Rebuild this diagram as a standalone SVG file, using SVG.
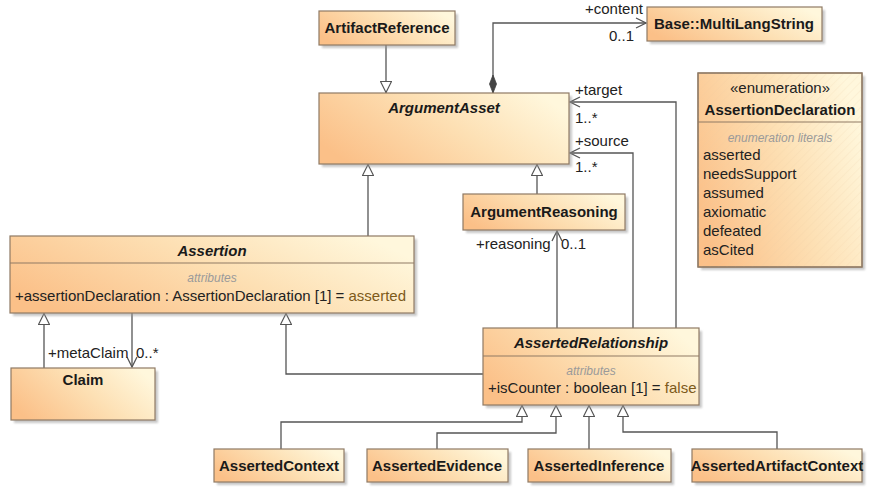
<svg xmlns="http://www.w3.org/2000/svg" width="880" height="490" viewBox="0 0 880 490">
<defs>
<linearGradient id="g" x1="0" y1="0.7" x2="1" y2="0.3">
<stop offset="0" stop-color="#fbc088"/>
<stop offset="0.55" stop-color="#fde0b4"/>
<stop offset="1" stop-color="#fff7dc"/>
</linearGradient>
<pattern id="hatch" width="6" height="6" patternUnits="userSpaceOnUse" patternTransform="rotate(45)">
<line x1="0" y1="0" x2="0" y2="6" stroke="#e6c9a2" stroke-width="0.6" stroke-opacity="0.5"/>
</pattern>
<filter id="sh" x="-10%" y="-10%" width="130%" height="140%">
<feGaussianBlur stdDeviation="1.2"/>
</filter>
<marker id="tri" viewBox="0 0 12 12" refX="12" refY="6" markerWidth="12" markerHeight="12" markerUnits="userSpaceOnUse" orient="auto">
<path d="M0.5,0.5 L11.5,6 L0.5,11.5 Z" fill="#fff" stroke="#555" stroke-width="1.2"/>
</marker>
<marker id="arr" viewBox="0 0 12 12" refX="11" refY="6" markerWidth="12" markerHeight="12" markerUnits="userSpaceOnUse" orient="auto">
<path d="M1,1 L11,6 L1,11" fill="none" stroke="#555" stroke-width="1.3"/>
</marker>
<marker id="dia" viewBox="0 0 18 8" refX="0" refY="4" markerWidth="18" markerHeight="8" markerUnits="userSpaceOnUse" orient="auto">
<path d="M0,4 L9,0.5 L18,4 L9,7.5 Z" fill="#444" stroke="#444" stroke-width="0.8"/>
</marker>
</defs>
<style>
.box{fill:url(#g);stroke:#8f7a64;stroke-width:1.2}
.shd{fill:#9a9a9a;opacity:0.55;filter:url(#sh)}
.div{stroke:#8f7a64;stroke-width:1.1}
.t{font-family:"Liberation Sans",Arial,sans-serif;font-size:15px;font-weight:bold;fill:#1a1a1a;text-anchor:middle}
.ti{font-style:italic}
.r{font-family:"Liberation Sans",Arial,sans-serif;font-size:15px;fill:#222}
.sm{font-family:"Liberation Sans",Arial,sans-serif;font-size:12px;font-style:italic;fill:#9a9a9a;text-anchor:middle}
.val{fill:#7d5a1a}
.c{fill:none;stroke:#555;stroke-width:1.3}
.gen{marker-end:url(#tri)}
.nav{marker-end:url(#arr)}
</style>
<rect width="880" height="490" fill="#fff"/>

<g id="connectors">
<path class="c gen" d="M386,45 L386,93"/>
<path class="c nav" d="M493,93 L493,23 L646,23" marker-start="url(#dia)"/>
<path class="c gen" d="M368,236 L368,164"/>
<path class="c gen" d="M537,194 L537,164"/>
<path class="c nav" d="M676,328 L676,102 L570,102"/>
<path class="c nav" d="M633,328 L633,153 L570,153"/>
<path class="c nav" d="M557,328 L557,231"/>
<path class="c gen" d="M44,368 L44,313"/>
<path class="c nav" d="M132,313 L132,367"/>
<path class="c gen" d="M483,374 L286,374 L286,313"/>
<path class="c gen" d="M281,449 L281,422 L522,422 L522,405"/>
<path class="c gen" d="M437,449 L437,433 L556,433 L556,405"/>
<path class="c gen" d="M589,449 L589,405"/>
<path class="c gen" d="M777,449 L777,432 L623,432 L623,405"/>
<g class="r">
<text x="585" y="14">+content</text>
<text x="609" y="41">0..1</text>
<text x="575" y="95">+target</text>
<text x="575" y="123">1..*</text>
<text x="575" y="146">+source</text>
<text x="575" y="172">1..*</text>
<text x="476" y="249">+reasoning</text>
<text x="561" y="249">0..1</text>
<text x="48" y="358">+metaClaim</text>
<text x="136" y="358">0..*</text>
</g>
</g>

<g id="ArtifactReference">
<rect class="shd" x="322" y="14" width="136" height="34"/>
<rect class="box" x="319" y="11" width="136" height="34"/>
<text class="t" x="387" y="33">ArtifactReference</text>
</g>

<g id="MultiLangString">
<rect class="shd" x="650" y="10" width="175" height="34"/>
<rect class="box" x="647" y="7" width="175" height="34"/>
<text class="t" x="734" y="29">Base::MultiLangString</text>
</g>

<g id="ArgumentAsset">
<rect class="shd" x="322" y="96" width="250" height="71"/>
<rect class="box" x="319" y="93" width="250" height="71"/>
<text class="t ti" x="444" y="113">ArgumentAsset</text>
</g>

<g id="ArgumentReasoning">
<rect class="shd" x="466" y="197" width="162" height="36"/>
<rect class="box" x="463" y="194" width="162" height="36"/>
<text class="t" x="544" y="217">ArgumentReasoning</text>
</g>

<g id="AssertionDeclaration">
<rect class="shd" x="701" y="76" width="164" height="194"/>
<rect class="box" x="698" y="73" width="164" height="194"/>
<rect x="698" y="73" width="164" height="194" fill="url(#hatch)"/>
<rect x="698" y="73" width="164" height="194" fill="none" stroke="#8f7a64" stroke-width="1.2"/>
<line class="div" x1="698" y1="122" x2="862" y2="122"/>
<text class="r" x="780" y="93" text-anchor="middle">«enumeration»</text>
<text class="t" x="780" y="115">AssertionDeclaration</text>
<text class="sm" x="780" y="142">enumeration literals</text>
<g class="r">
<text x="703" y="160">asserted</text>
<text x="703" y="179">needsSupport</text>
<text x="703" y="198">assumed</text>
<text x="703" y="217">axiomatic</text>
<text x="703" y="236">defeated</text>
<text x="703" y="255">asCited</text>
</g>
</g>

<g id="Assertion">
<rect class="shd" x="13" y="239" width="404" height="77"/>
<rect class="box" x="10" y="236" width="404" height="77"/>
<line class="div" x1="10" y1="263" x2="414" y2="263"/>
<text class="t ti" x="212" y="256">Assertion</text>
<text class="sm" x="212" y="282">attributes</text>
<text class="r" x="15" y="301">+assertionDeclaration : AssertionDeclaration [1] = <tspan class="val">asserted</tspan></text>
</g>

<g id="Claim">
<rect class="shd" x="14" y="371" width="144" height="52"/>
<rect class="box" x="11" y="368" width="144" height="52"/>
<text class="t" x="83" y="385">Claim</text>
</g>

<g id="AssertedRelationship">
<rect class="shd" x="486" y="331" width="216" height="77"/>
<rect class="box" x="483" y="328" width="216" height="77"/>
<line class="div" x1="483" y1="356" x2="699" y2="356"/>
<text class="t ti" x="591" y="348">AssertedRelationship</text>
<text class="sm" x="591" y="375">attributes</text>
<text class="r" x="488" y="393">+isCounter : boolean [1] = <tspan class="val">false</tspan></text>
</g>

<g id="AssertedContext">
<rect class="shd" x="217" y="452" width="130" height="33"/>
<rect class="box" x="214" y="449" width="130" height="33"/>
<text class="t" x="279" y="471">AssertedContext</text>
</g>

<g id="AssertedEvidence">
<rect class="shd" x="370" y="452" width="141" height="33"/>
<rect class="box" x="367" y="449" width="141" height="33"/>
<text class="t" x="437" y="471">AssertedEvidence</text>
</g>

<g id="AssertedInference">
<rect class="shd" x="531" y="452" width="143" height="33"/>
<rect class="box" x="528" y="449" width="143" height="33"/>
<text class="t" x="599" y="471">AssertedInference</text>
</g>

<g id="AssertedArtifactContext">
<rect class="shd" x="695" y="452" width="170" height="33"/>
<rect class="box" x="692" y="449" width="170" height="33"/>
<text class="t" x="777" y="471">AssertedArtifactContext</text>
</g>
</svg>
